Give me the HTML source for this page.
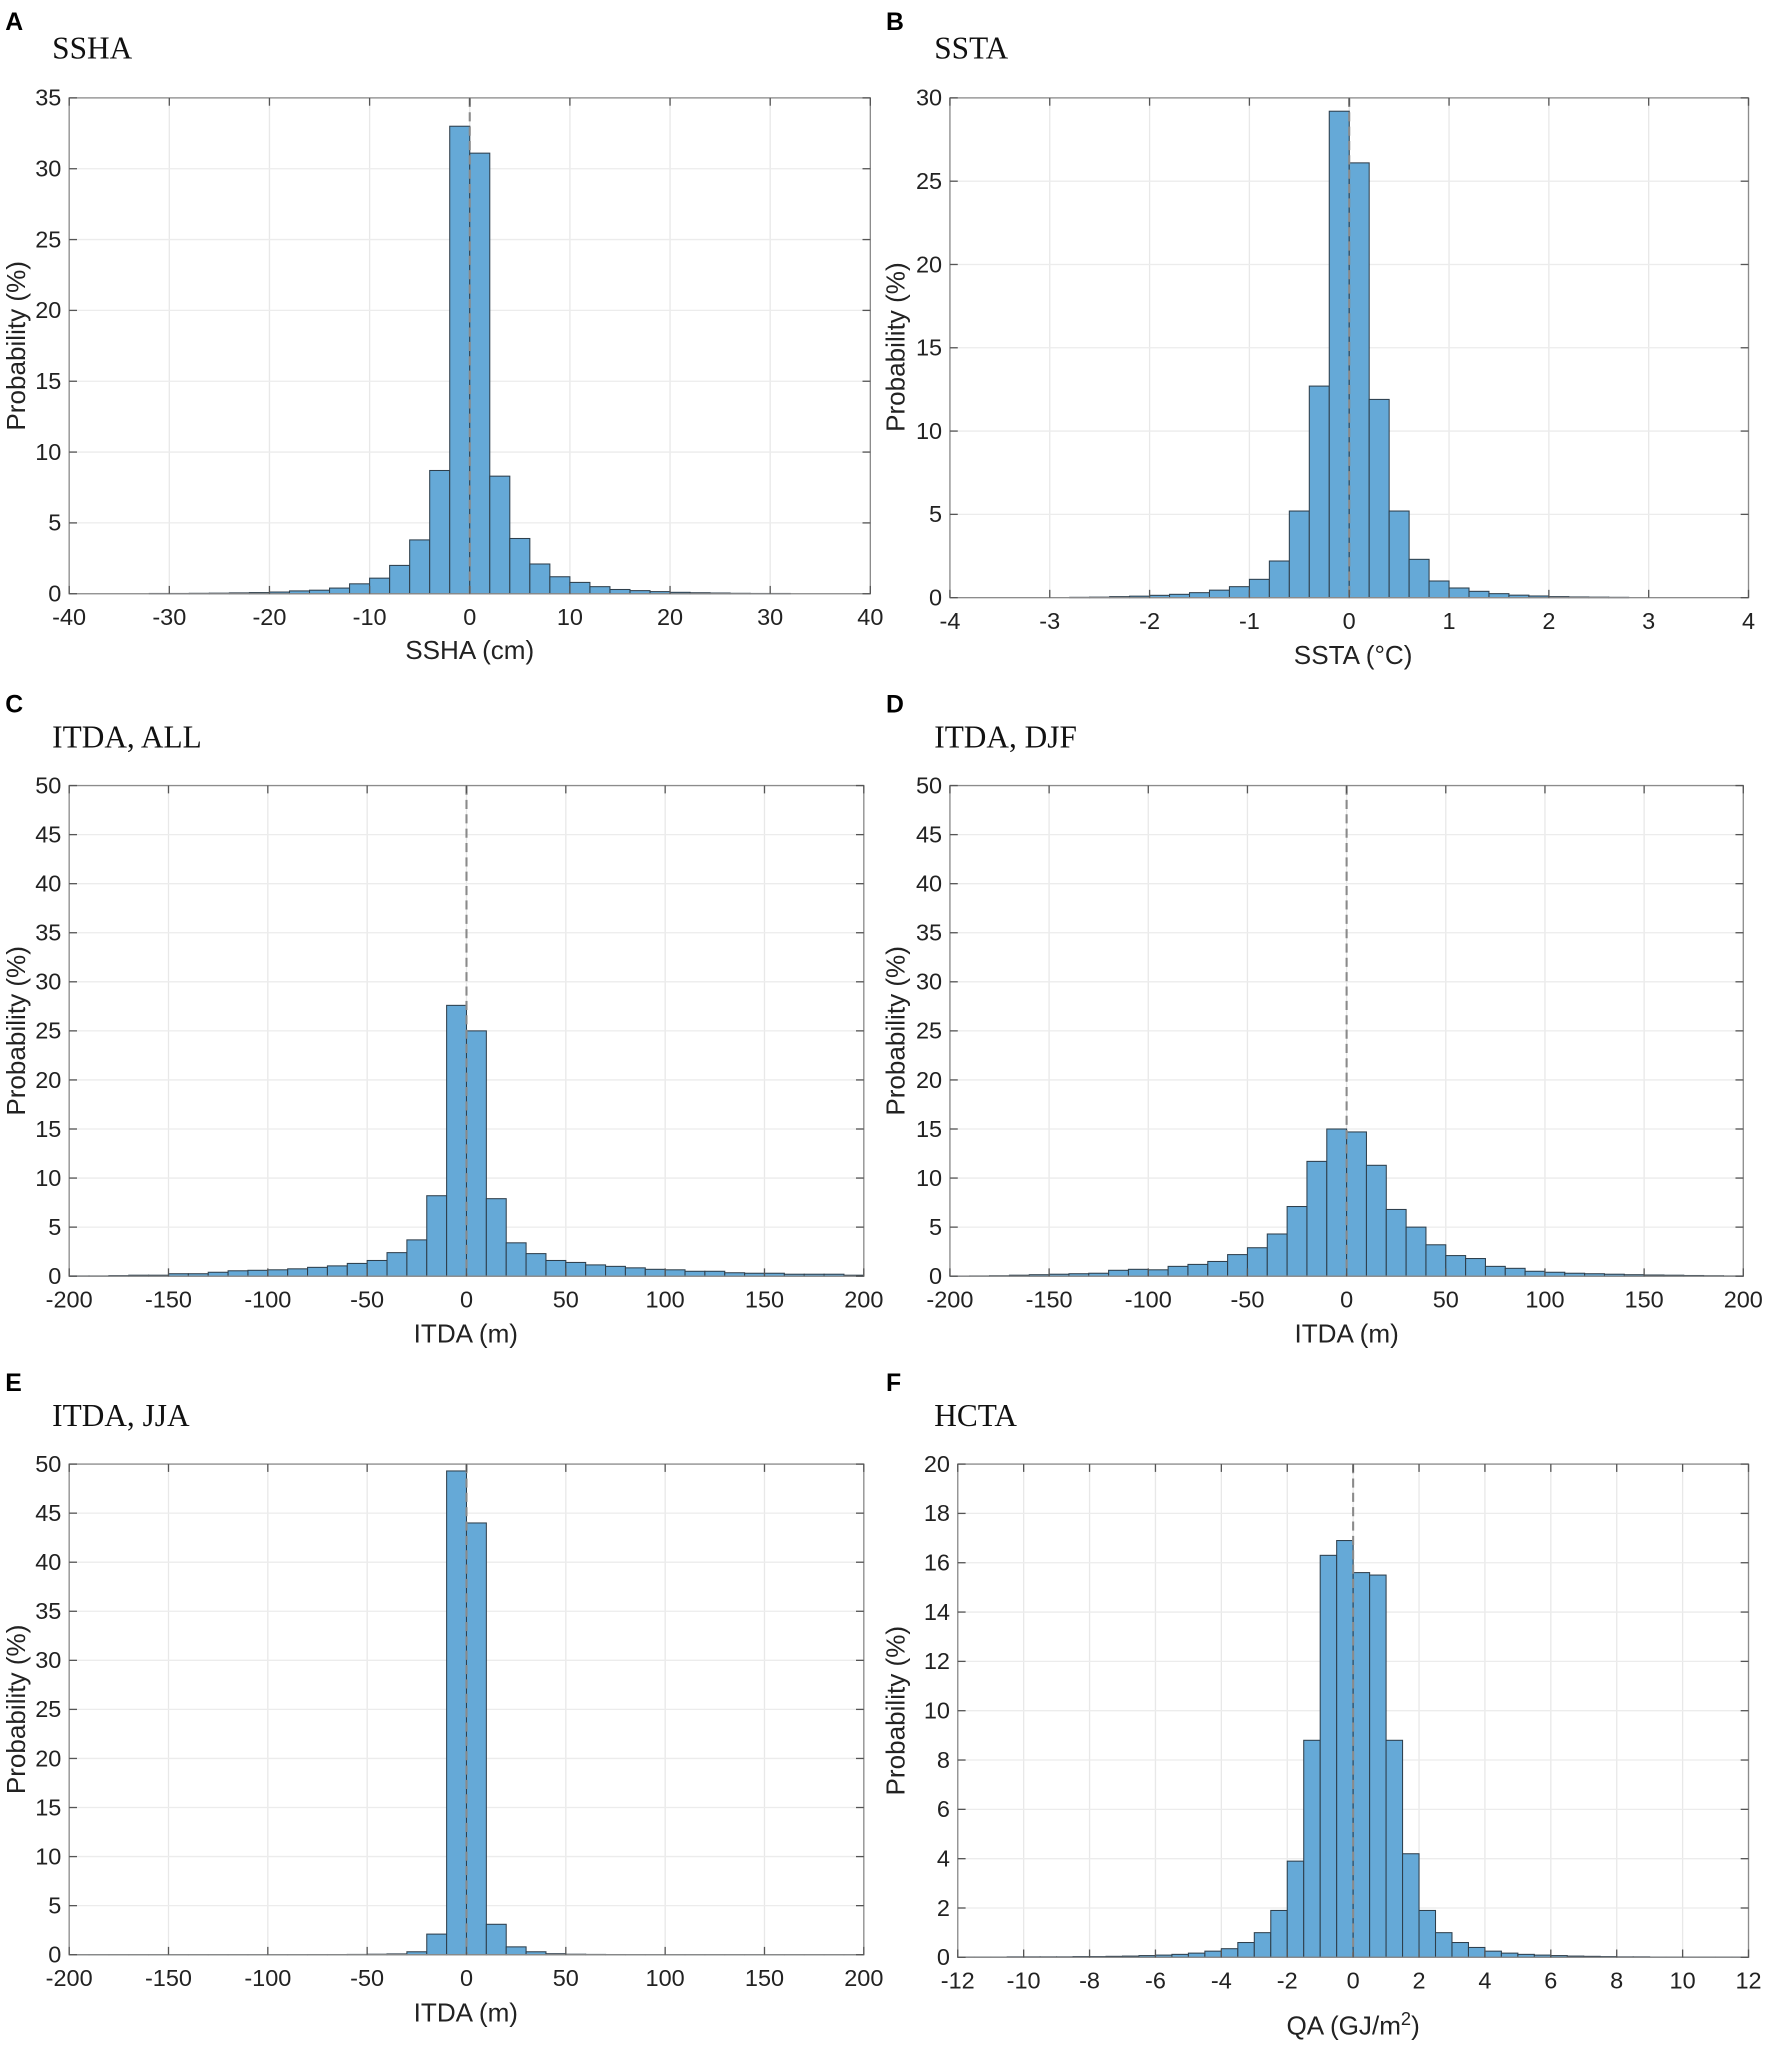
<!DOCTYPE html>
<html><head><meta charset="utf-8">
<style>
html,body{margin:0;padding:0;background:#fff;}
svg{display:block;}
.tk{font-family:"Liberation Sans",Arial,sans-serif;font-size:18px;fill:#222;}
.nar{font-family:"Liberation Sans Narrow","Liberation Sans",sans-serif;font-size:18px;}
.al{font-family:"Liberation Sans",Arial,sans-serif;font-size:20px;fill:#222;}
.ti{font-family:"Liberation Serif","Times New Roman",serif;font-size:24px;fill:#111;}
.lt{font-family:"Liberation Sans",Arial,sans-serif;font-size:19px;font-weight:bold;fill:#000;}
</style></head><body>
<svg id="s" width="1772" height="2050" viewBox="0 0 1358 1571" xmlns="http://www.w3.org/2000/svg">
<rect width="1358" height="1571" fill="#fff"/>
<g id="plots"></g>
<text class="lt" x="4" y="23">A</text><text class="ti" x="40" y="45">SSHA</text>
<text class="lt" x="679" y="23">B</text><text class="ti" x="716" y="45">SSTA</text>
<text class="lt" x="4" y="546">C</text><text class="ti" x="40" y="573">ITDA, ALL</text>
<text class="lt" x="679" y="546">D</text><text class="ti" x="716" y="573">ITDA, DJF</text>
<text class="lt" x="4" y="1066">E</text><text class="ti" x="40" y="1093">ITDA, JJA</text>
<text class="lt" x="679" y="1066">F</text><text class="ti" x="716" y="1093">HCTA</text>
<text class="al" x="360" y="505" text-anchor="middle">SSHA (cm)</text>
<text class="al" x="1037" y="509" text-anchor="middle">SSTA (°C)</text>
<text class="al" x="357" y="1029" text-anchor="middle">ITDA (m)</text>
<text class="al" x="1032" y="1029" text-anchor="middle">ITDA (m)</text>
<text class="al" x="357" y="1549" text-anchor="middle">ITDA (m)</text>
<text class="al" x="1037" y="1559" text-anchor="middle">QA (GJ/m<tspan dy="-7" font-size="14">2</tspan><tspan dy="7">)</tspan></text>
<text class="al" transform="translate(19,265) rotate(-90)" text-anchor="middle">Probability (%)</text>
<text class="al" transform="translate(693,266) rotate(-90)" text-anchor="middle">Probability (%)</text>
<text class="al" transform="translate(19,790) rotate(-90)" text-anchor="middle">Probability (%)</text>
<text class="al" transform="translate(693,790) rotate(-90)" text-anchor="middle">Probability (%)</text>
<text class="al" transform="translate(19,1310) rotate(-90)" text-anchor="middle">Probability (%)</text>
<text class="al" transform="translate(693,1311) rotate(-90)" text-anchor="middle">Probability (%)</text>
</svg>
<script>
var NS="http://www.w3.org/2000/svg",G=document.getElementById("plots");
function el(t,a,txt){var e=document.createElementNS(NS,t);for(var k in a)e.setAttribute(k,a[k]);if(txt!=null)e.textContent=txt;G.appendChild(e);return e;}
function panel(c){
 var L=c.L,R=c.R,T=c.T,B=c.B;
 function X(v){return L+(v-c.x0)/(c.x1-c.x0)*(R-L);}
 function Y(v){return B-(v-0)/(c.y1)*(B-T);}
 var v;
 for(v=c.x0;v<=c.x1+1e-9;v+=c.xs){var x=X(v);el("line",{x1:x,x2:x,y1:T,y2:B,stroke:"#e8e8e8","stroke-width":1});}
 for(v=0;v<=c.y1+1e-9;v+=c.ys){var y=Y(v);el("line",{x1:L,x2:R,y1:y,y2:y,stroke:"#ececec","stroke-width":1});}
 for(var i=0;i<c.d.length;i++){var a=c.s+i*c.w,h=c.d[i];var x1=X(a),x2=X(a+c.w),yy=Y(h);
  el("rect",{x:x1,y:yy,width:x2-x1,height:B-yy,fill:"#65a9d7",stroke:"#2e3f4c","stroke-width":0.8});}
 el("line",{x1:X(0),x2:X(0),y1:T,y2:B,stroke:"#8a8a8a","stroke-width":1.6,"stroke-dasharray":"7,4"});
 el("rect",{x:L,y:T,width:R-L,height:B-T,fill:"none",stroke:"#8c8c8c","stroke-width":1});
 var cls="tk"+(c.nar?" nar":"");
 for(v=c.x0;v<=c.x1+1e-9;v+=c.xs){var x=X(v);
  el("line",{x1:x,x2:x,y1:B,y2:B-6,stroke:"#555"});el("line",{x1:x,x2:x,y1:T,y2:T+6,stroke:"#555"});
  el("text",{x:x,y:B+24,"text-anchor":"middle","class":cls},String(Math.round(v*10)/10));}
 for(v=0;v<=c.y1+1e-9;v+=c.ys){var y=Y(v);
  el("line",{x1:L,x2:L+6,y1:y,y2:y,stroke:"#555"});el("line",{x1:R,x2:R-6,y1:y,y2:y,stroke:"#555"});
  el("text",{x:L-6,y:y+6,"text-anchor":"end","class":cls},String(v));}
}
panel({L:53,R:667,T:75,B:455,x0:-40,x1:40,xs:10,y1:35,ys:5,s:-32,w:2,nar:1,
 d:[0.02,0.02,0.03,0.04,0.06,0.08,0.12,0.2,0.25,0.4,0.7,1.1,2.0,3.8,8.7,33,31.1,8.3,3.9,2.1,1.2,0.8,0.5,0.3,0.22,0.15,0.1,0.07,0.05,0.03,0.02,0.02]});
panel({L:728,R:1340,T:75,B:458,x0:-4,x1:4,xs:1,y1:30,ys:5,s:-2.8,w:0.2,
 d:[0.02,0.03,0.06,0.09,0.14,0.2,0.3,0.45,0.66,1.1,2.2,5.2,12.7,29.2,26.1,11.9,5.2,2.3,1.0,0.58,0.38,0.24,0.15,0.1,0.06,0.04,0.03,0.02]});
panel({L:53,R:662,T:602,B:978,x0:-200,x1:200,xs:50,y1:50,ys:5,s:-200,w:10,nar:1,
 d:[0.03,0.03,0.06,0.1,0.1,0.25,0.25,0.4,0.55,0.6,0.65,0.75,0.9,1.05,1.3,1.6,2.4,3.7,8.2,27.6,25,7.9,3.4,2.3,1.6,1.4,1.15,1.0,0.85,0.7,0.65,0.5,0.5,0.35,0.3,0.3,0.2,0.2,0.2,0.1]});
panel({L:728,R:1336,T:602,B:978,x0:-200,x1:200,xs:50,y1:50,ys:5,s:-200,w:10,
 d:[0.02,0.03,0.05,0.1,0.15,0.2,0.25,0.3,0.6,0.7,0.65,1.0,1.2,1.5,2.2,2.9,4.3,7.1,11.7,15,14.7,11.3,6.8,5.0,3.2,2.1,1.8,1.0,0.8,0.5,0.4,0.3,0.25,0.2,0.15,0.12,0.1,0.07,0.05,0.03]});
panel({L:53,R:662,T:1122,B:1498,x0:-200,x1:200,xs:50,y1:50,ys:5,s:-200,w:10,
 d:[0.01,0.01,0.01,0.01,0.01,0.01,0.01,0.01,0.01,0.01,0.01,0.01,0.02,0.02,0.03,0.05,0.08,0.3,2.1,49.3,44,3.1,0.8,0.3,0.1,0.05,0.03,0.02,0.01,0.01,0.01,0.01,0.01,0.01,0.01,0.01,0.01,0.01,0.01,0.01]});
panel({L:734,R:1340,T:1122,B:1500,x0:-12,x1:12,xs:2,y1:20,ys:2,s:-12,w:0.5,
 d:[0.01,0.01,0.01,0.02,0.02,0.02,0.02,0.03,0.03,0.04,0.05,0.07,0.09,0.12,0.17,0.25,0.35,0.6,1.0,1.9,3.9,8.8,16.3,16.9,15.6,15.5,8.8,4.2,1.9,1.0,0.6,0.4,0.25,0.17,0.12,0.09,0.07,0.05,0.04,0.03,0.02,0.02,0.01,0.01,0.01,0.01,0.01,0.01]});
</script>
</body></html>
